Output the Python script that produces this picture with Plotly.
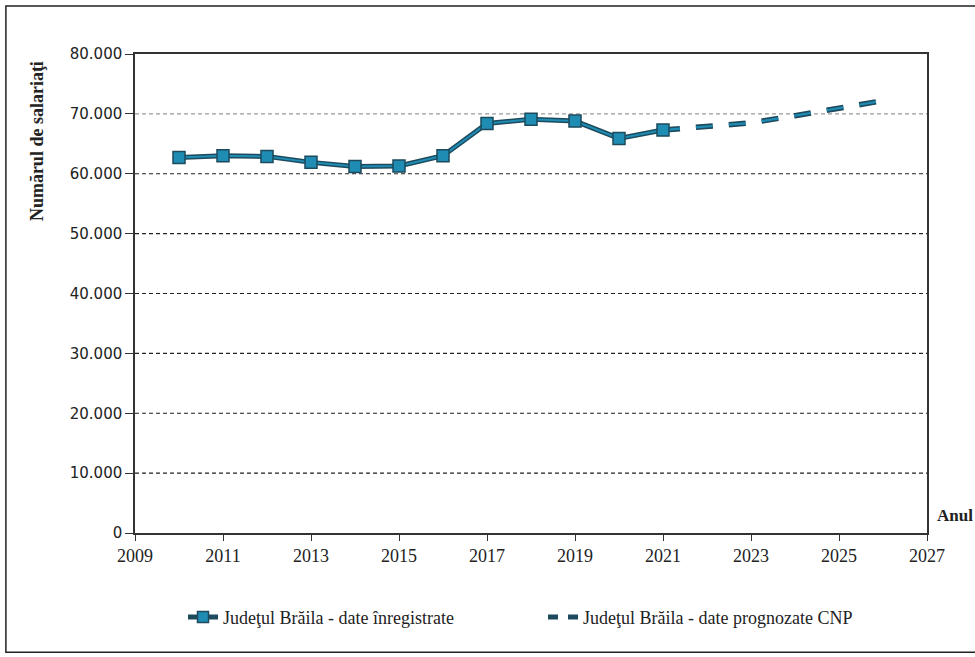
import plotly.graph_objects as go

# Recorded number of employees, Brăila county
years_recorded = [2010, 2011, 2012, 2013, 2014, 2015, 2016, 2017, 2018, 2019, 2020, 2021]
employees_recorded = [62700, 63000, 62900, 61900, 61200, 61300, 63000, 68400, 69100, 68800, 65900, 67300]

# CNP forecast
years_forecast = [2021, 2022, 2023, 2024, 2025, 2026]
employees_forecast = [67300, 67900, 68500, 69700, 70900, 72200]

y_ticks = [0, 10000, 20000, 30000, 40000, 50000, 60000, 70000, 80000]
y_tick_text = ["0", "10.000", "20.000", "30.000", "40.000", "50.000", "60.000", "70.000", "80.000"]
x_ticks = [2009, 2011, 2013, 2015, 2017, 2019, 2021, 2023, 2025, 2027]

DARK = "#1d4a5c"
TEAL = "#1f8cb4"
SERIF = "Liberation Serif"

fig = go.Figure()

# dashed gridlines
for v in y_ticks[1:-1]:
    fig.add_shape(type="line", xref="paper", yref="y", x0=0, x1=1, y0=v, y1=v,
                  line=dict(color="#9a9a9a" if v == 70000 else "#222222", width=1.1,
                            dash="4px,3px"),
                  layer="below")

# outer frame
fig.add_shape(type="rect", xref="paper", yref="paper", x0=-0.163, x1=1.07, y0=-0.249, y1=1.10,
              line=dict(color="#222222", width=1.5), layer="below")

# forecast: dark outline + teal core
fig.add_trace(go.Scatter(x=years_forecast, y=employees_forecast, mode="lines",
                         line=dict(color=DARK, width=5.5, dash="17px,16px"),
                         showlegend=False, hoverinfo="skip"))
fig.add_trace(go.Scatter(x=years_forecast, y=employees_forecast, mode="lines",
                         line=dict(color=TEAL, width=2.2, dash="17px,16px"),
                         showlegend=False, hoverinfo="skip"))

# recorded: dark outline + teal core with square markers
fig.add_trace(go.Scatter(x=years_recorded, y=employees_recorded, mode="lines",
                         line=dict(color=DARK, width=5),
                         showlegend=False, hoverinfo="skip"))
fig.add_trace(go.Scatter(x=years_recorded, y=employees_recorded, mode="lines+markers",
                         line=dict(color=TEAL, width=2),
                         marker=dict(symbol="square", size=12, color=TEAL,
                                     line=dict(color=DARK, width=1.5)),
                         showlegend=False))

# legend entries
fig.add_trace(go.Scatter(x=[None], y=[None], mode="lines+markers",
                         name="Judeţul Brăila - date înregistrate",
                         line=dict(color=DARK, width=5),
                         marker=dict(symbol="square", size=11, color=TEAL,
                                     line=dict(color=DARK, width=1.5)),
                         legend="legend"))
fig.add_trace(go.Scatter(x=[None], y=[None], mode="lines",
                         name="Judeţul Brăila - date prognozate CNP",
                         line=dict(color=DARK, width=5, dash="10px,10px"),
                         legend="legend2"))

legend_common = dict(font=dict(family=SERIF, size=18, color="#222222"),
                     itemwidth=30, bgcolor="rgba(0,0,0,0)", yanchor="middle",
                     y=(533 - 617) / 478)

fig.update_layout(
    width=975, height=657,
    margin=dict(l=135, r=48, t=54, b=124, autoexpand=False),
    paper_bgcolor="white", plot_bgcolor="white",
    font=dict(family=SERIF, color="#222222"),
    xaxis=dict(range=[2009, 2027], tickvals=x_ticks, showgrid=False, zeroline=False,
               showline=True, linecolor="#333333", linewidth=1.5, mirror=True,
               ticks="outside", ticklen=6, tickcolor="#333333",
               tickfont=dict(family=SERIF, size=18, color="#222222")),
    yaxis=dict(range=[0, 80000], tickvals=y_ticks, ticktext=y_tick_text, showgrid=False,
               zeroline=False, showline=True, linecolor="#333333", linewidth=1.5, mirror=True,
               ticks="outside", ticklen=8, tickcolor="#333333",
               tickfont=dict(family="DejaVu Sans", size=15, color="#222222")),
    legend=dict(x=(183 - 135) / 792, xanchor="left", **legend_common),
    legend2=dict(x=(543 - 135) / 792, xanchor="left", **legend_common),
    annotations=[
        dict(text="<b>Numărul de salariaţi</b>", xref="paper", yref="y", x=-0.138, y=65400,
             textangle=-90, showarrow=False, font=dict(family=SERIF, size=18, color="#222222")),
        dict(text="<b>Anul</b>", xref="paper", yref="y", x=1.01, y=1000, xanchor="left",
             yanchor="bottom", showarrow=False, font=dict(family=SERIF, size=17, color="#222222")),
    ],
)

fig.write_html("out.html")
